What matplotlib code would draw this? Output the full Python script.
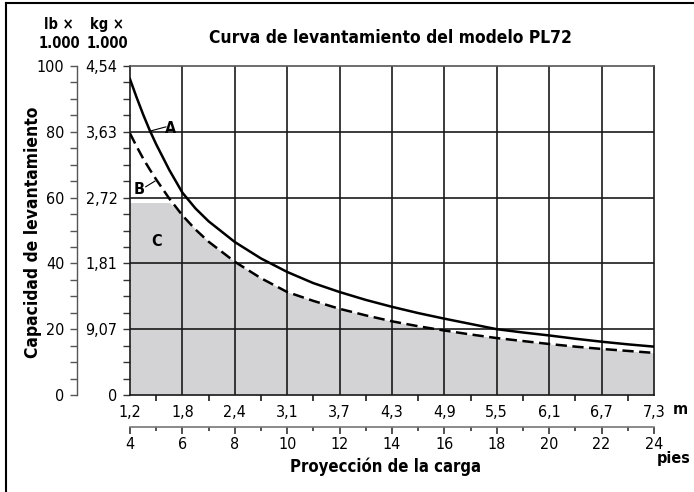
import matplotlib
matplotlib.use("Agg")
import matplotlib.pyplot as plt
from matplotlib.lines import Line2D
import numpy as np

plt.rcParams['font.family'] = ['DejaVu Sans']
plt.rcParams['font.stretch'] = 'condensed'

# projection in feet and the matching metre labels
feet = [4, 4.25, 4.5, 4.75, 5, 5.5, 6, 6.5, 7, 8, 9, 10, 11, 12, 13, 14, 15, 16, 17, 18, 19, 20, 21, 22, 23, 24]
curve_a = [96, 90.5, 85.3, 80.5, 76.2, 68.4, 61.5, 56.7, 52.8, 46.5, 41.5, 37.4, 34.0, 31.3, 28.9,
           26.8, 24.9, 23.2, 21.6, 20.0, 19.0, 18.1, 17.1, 16.2, 15.4, 14.7]
curve_b = [79.5, 75.6, 71.9, 68.6, 65.5, 59.7, 54.6, 50.3, 46.6, 40.5, 35.5, 31.3, 28.6, 26.2, 24.2,
           22.4, 20.9, 19.6, 18.4, 17.3, 16.4, 15.5, 14.7, 14.0, 13.4, 12.8]
limit_c = 58.5

ft_ticks = [4, 6, 8, 10, 12, 14, 16, 18, 20, 22, 24]
m_labels = ['1,2', '1,8', '2,4', '3,1', '3,7', '4,3', '4,9', '5,5', '6,1', '6,7', '7,3']
lb_ticks = [0, 20, 40, 60, 80, 100]
kg_labels = ['0', '9,07', '1,81', '2,72', '3,63', '4,54']

W, H = 694, 492
fig = plt.figure(figsize=(W / 100, H / 100), dpi=100)

L, R, T, B = 130, 654, 66, 395
ax = fig.add_axes([L / W, 1 - B / H, (R - L) / W, (B - T) / H])
ax.set_xlim(4, 24)
ax.set_ylim(0, 100)

fill_top = np.minimum(curve_b, limit_c)
ax.fill_between(feet, 0, fill_top, color='#d3d3d5', lw=0, zorder=1)

for x in ft_ticks[1:-1]:
    ax.axvline(x, color='#1a1a1a', lw=1.2, zorder=2)
for y in lb_ticks[1:-1]:
    ax.axhline(y, color='#1a1a1a', lw=1.2, zorder=2)

ax.plot(feet, curve_a, color='black', lw=1.8, zorder=3)
ax.plot(feet, curve_b, color='black', lw=1.8, ls=(0, (4.5, 2.2)), zorder=3)

# curve labels
ax.text(5.56, 80.9, 'A', fontsize=11.5, fontweight='bold', ha='center', va='center', zorder=4)
ax.plot([4.76, 5.37], [80.2, 81.5], color='black', lw=0.8, zorder=4)
ax.text(4.34, 62.6, 'B', fontsize=11.5, fontweight='bold', ha='center', va='center', zorder=4)
ax.plot([4.6, 4.95], [63.3, 65.0], color='black', lw=0.8, zorder=4)
ax.text(5.03, 46.8, 'C', fontsize=11.5, fontweight='bold', ha='center', va='center', zorder=4)

for s in ['left', 'bottom', 'right']:
    ax.spines[s].set_color('#1a1a1a')
    ax.spines[s].set_linewidth(1.2)
ax.spines['top'].set_color('#555555')
ax.spines['top'].set_linewidth(1.2)

ax.set_yticks(lb_ticks)
ax.set_yticklabels(kg_labels, fontsize=11.5)
ax.set_yticks(np.arange(0, 101, 5), minor=True)
ax.set_xticks(ft_ticks)
ax.set_xticklabels(m_labels, fontsize=11.5)
ax.set_xticks(range(5, 24, 2), minor=True)
ax.tick_params(axis='y', which='both', direction='out', length=5, width=1, pad=4, color='#333333')
ax.tick_params(axis='x', which='major', length=0, pad=7)
ax.tick_params(axis='x', which='minor', direction='out', length=4, width=1.2, color='#1a1a1a')

# lb axis
ax_lb = fig.add_axes([77 / W, 1 - B / H, 0.0001, (B - T) / H])
ax_lb.set_ylim(0, 100)
ax_lb.set_xticks([])
for s in ['top', 'bottom', 'right']:
    ax_lb.spines[s].set_visible(False)
ax_lb.spines['left'].set_color('#555555')
ax_lb.spines['left'].set_linewidth(1)
ax_lb.set_yticks(lb_ticks)
ax_lb.set_yticklabels([str(v) for v in lb_ticks], fontsize=11.5)
ax_lb.set_yticks(np.arange(0, 101, 5), minor=True)
ax_lb.tick_params(axis='y', which='both', direction='out', length=5, width=1, pad=4, color='#555555')
ax_lb.patch.set_visible(False)

# feet axis
FY = 427
ax_ft = fig.add_axes([L / W, 1 - FY / H, (R - L) / W, 0.0001])
ax_ft.set_xlim(4, 24)
ax_ft.set_yticks([])
for s in ['top', 'left', 'right']:
    ax_ft.spines[s].set_visible(False)
ax_ft.spines['bottom'].set_color('#777777')
ax_ft.spines['bottom'].set_linewidth(1.2)
ax_ft.set_xticks(ft_ticks)
ax_ft.set_xticklabels([str(v) for v in ft_ticks], fontsize=11.5)
ax_ft.set_xticks(range(5, 24, 2), minor=True)
ax_ft.tick_params(axis='x', which='major', direction='out', length=5, width=1.2, pad=2, color='#333333')
ax_ft.tick_params(axis='x', which='minor', direction='out', length=3, width=1.2, color='#333333')
ax_ft.patch.set_visible(False)


def px(x, y):
    return x / W, 1 - y / H


fig.text(*px(390, 38), 'Curva de levantamiento del modelo PL72', fontsize=12.5, fontweight='bold',
         ha='center', va='center')
fig.text(*px(59, 34), 'lb ×\n1.000', fontsize=10.5, fontweight='bold', ha='center', va='center',
         linespacing=1.3)
fig.text(*px(107, 34), 'kg ×\n1.000', fontsize=10.5, fontweight='bold', ha='center', va='center',
         linespacing=1.3)
fig.text(*px(33, 232), 'Capacidad de levantamiento', fontsize=12.5, fontweight='bold',
         rotation=90, ha='center', va='center')
fig.text(*px(385, 467), 'Proyección de la carga', fontsize=12, fontweight='bold',
         ha='center', va='center')
fig.text(*px(680, 410), 'm', fontsize=11.5, fontweight='bold', ha='center', va='center')
fig.text(*px(674, 459), 'pies', fontsize=11.5, fontweight='bold', ha='center', va='center')

# frame
fig.add_artist(Line2D([6 / W, 6 / W], [0, 1 - 3 / H], color='black', lw=1.5))
fig.add_artist(Line2D([6 / W, 1], [1 - 3 / H, 1 - 3 / H], color='black', lw=1.5))

fig.savefig('out.png', dpi=100)
